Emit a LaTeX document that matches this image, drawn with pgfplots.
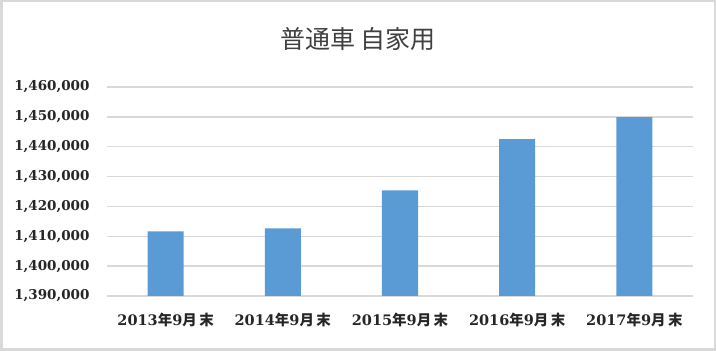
\documentclass[border=0pt]{standalone}
\usepackage{fontspec}
\usepackage{pgfplots}
\pgfplotsset{compat=1.18}
\setmainfont{DejaVu Serif}
\newfontfamily\cjk{Noto Sans CJK JP}
\definecolor{barblue}{HTML}{5B9BD5}
\definecolor{gridgray}{HTML}{D9D9D9}
\definecolor{txt}{HTML}{262626}
\newcommand{\lab}[1]{#1{\cjk 年}9{\cjk 月\,末}}
\begin{document}
\begin{tikzpicture}[x=1pt,y=1pt]
\useasboundingbox (0,0) rectangle (716,351);
\draw[line width=2.5pt, color=gridgray] (1.25,1.25) rectangle (714.75,349.75);
\node[font=\cjk\fontsize{25}{25}\selectfont, text=black!75] at (358,312) {普通車 自家用};
\begin{axis}[
  at={(107pt,55pt)}, anchor=south west,
  scale only axis, width=586pt, height=209pt,
  ymin=1390000, ymax=1460000,
  scaled y ticks=false,
  ytick={1390000,1400000,1410000,1420000,1430000,1440000,1450000,1460000},
  yticklabels={{1,390,000},{1,400,000},{1,410,000},{1,420,000},{1,430,000},{1,440,000},{1,450,000},{1,460,000}},
  xmin=-0.5, xmax=4.5, xtick=data,
  xticklabels={\lab{2013},\lab{2014},\lab{2015},\lab{2016},\lab{2017}},
  ybar, bar width=36pt,
  axis line style={draw=none},
  major tick length=0pt,
  ymajorgrids, grid style={color=gridgray, line width=1.5pt},
  yticklabel style={font=\bfseries\fontsize{13.5}{13.5}\selectfont, text=txt, xshift=-14pt},
  xticklabel style={font=\bfseries\fontsize{14.5}{14.5}\selectfont, text=txt, yshift=-14pt},
  ytick style={draw=none}, xtick style={draw=none},
]
\addplot[fill=barblue, draw=none] coordinates {
  (0,1411670) (1,1412670) (2,1425400) (3,1442500) (4,1449950)
};
\end{axis}
\end{tikzpicture}
\end{document}
